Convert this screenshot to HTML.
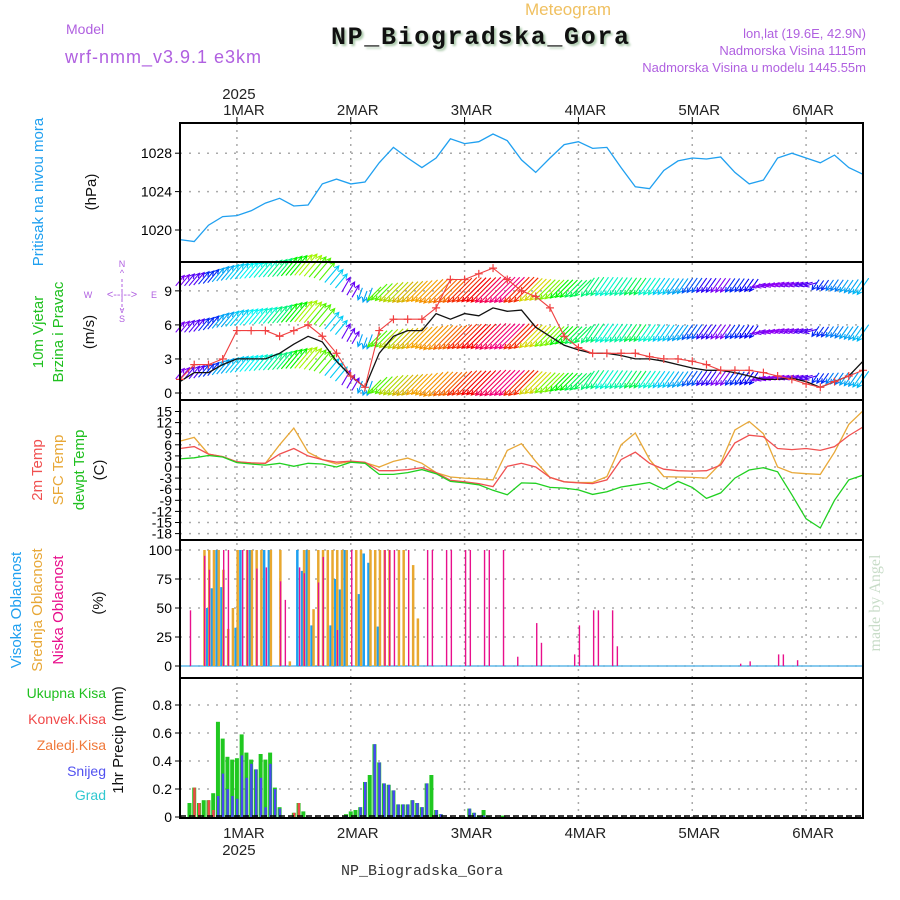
<!DOCTYPE html>
<html><head><meta charset="utf-8"><style>
html,body{margin:0;padding:0;background:#fff;}
svg{display:block;}
text{font-family:"Liberation Sans",sans-serif;}
</style></head><body>
<svg id="chart" width="900" height="900" viewBox="0 0 900 900" xmlns="http://www.w3.org/2000/svg">
<text x="568" y="15" text-anchor="middle" font-size="17" fill="#f0c060">Meteogram</text>
<text x="66" y="34" font-size="14" fill="#b060e0">Model</text>
<text x="65" y="63" font-size="18" fill="#b060e0" letter-spacing="1">wrf-nmm_v3.9.1 e3km</text>
<text x="480" y="44" text-anchor="middle" font-family="Liberation Mono" font-weight="bold" font-size="25" fill="#111" textLength="298" style="font-family:'Liberation Mono',monospace;filter:drop-shadow(2px 2px 1px #a8c8a8)">NP_Biogradska_Gora</text>
<text x="866" y="38" text-anchor="end" font-size="13" fill="#b060e0">lon,lat (19.6E, 42.9N)</text>
<text x="866" y="55" text-anchor="end" font-size="13" fill="#b060e0">Nadmorska Visina 1115m</text>
<text x="866" y="72" text-anchor="end" font-size="13" fill="#b060e0">Nadmorska Visina u modelu 1445.55m</text>
<text x="880" y="603" font-family="Liberation Serif" font-size="16" fill="#c8dcc8" text-anchor="middle" transform="rotate(-90 880 603)" style="font-family:'Liberation Serif',serif">made by Angel</text>

<text x="422" y="875" text-anchor="middle" font-size="15" fill="#333" style="font-family:'Liberation Mono',monospace">NP_Biogradska_Gora</text>

<g font-size="15">
<text transform="translate(43 192) rotate(-90)" text-anchor="middle" fill="#20a0f0">Pritisak na nivou mora</text>
<text transform="translate(96 192) rotate(-90)" text-anchor="middle" fill="#111">(hPa)</text>
<text transform="translate(43 332) rotate(-90)" text-anchor="middle" fill="#20c020">10m Vjetar</text>
<text transform="translate(63 332) rotate(-90)" text-anchor="middle" fill="#20c020">Brzina i Pravac</text>
<text transform="translate(94 332) rotate(-90)" text-anchor="middle" fill="#111">(m/s)</text>
<text transform="translate(42 470) rotate(-90)" text-anchor="middle" fill="#f05050">2m Temp</text>
<text transform="translate(63 470) rotate(-90)" text-anchor="middle" fill="#e8a838">SFC Temp</text>
<text transform="translate(84 470) rotate(-90)" text-anchor="middle" fill="#20c020">dewpt Temp</text>
<text transform="translate(104 470) rotate(-90)" text-anchor="middle" fill="#111">(C)</text>
<text transform="translate(21 610) rotate(-90)" text-anchor="middle" fill="#20a0f0">Visoka Oblacnost</text>
<text transform="translate(42 610) rotate(-90)" text-anchor="middle" fill="#e8a838">Srednja Oblacnost</text>
<text transform="translate(63 610) rotate(-90)" text-anchor="middle" fill="#e8108c">Niska Oblacnost</text>
<text transform="translate(103 603) rotate(-90)" text-anchor="middle" fill="#111">(%)</text>
<text transform="translate(123 740) rotate(-90)" text-anchor="middle" fill="#111">1hr Precip (mm)</text>
</g>
<g font-size="14" text-anchor="end">
<text x="106" y="698" fill="#20c020">Ukupna  Kisa</text>
<text x="106" y="724" fill="#f04848">Konvek.Kisa</text>
<text x="106" y="750" fill="#f07838">Zaledj.Kisa</text>
<text x="106" y="776" fill="#5050f0">Snijeg</text>
<text x="106" y="800" fill="#30c8d0">Grad</text>
</g>
<g fill="#b060e0" font-size="9">
<text x="122" y="267" text-anchor="middle">N</text>
<text x="122" y="276" text-anchor="middle">^</text>
<text x="122" y="298" text-anchor="middle" font-size="11">&lt;--|--&gt;</text>
<text x="88" y="298" text-anchor="middle">W</text>
<text x="154" y="298" text-anchor="middle">E</text>
<text x="122" y="313" text-anchor="middle">v</text>
<text x="122" y="322" text-anchor="middle">S</text>
<line x1="122" y1="279" x2="122" y2="310" stroke="#b060e0" stroke-dasharray="3 2"/>
</g>
<g id="layer"></g>
</svg>
<script>
// ---------- data (3-hourly from 28FEB 12UTC) ----------
const dayLabels = ['1MAR','2MAR','3MAR','4MAR','5MAR','6MAR'];
const dayHours = [12,36,60,84,108,132];
const pressure = [1019.0,1018.8,1020.5,1021.4,1021.5,1022.0,1022.8,1023.3,1022.5,1022.6,1024.8,1025.3,1024.8,1025.0,1027.0,1028.6,1027.5,1026.5,1027.5,1029.5,1029.0,1029.2,1030.0,1029.3,1027.3,1026.0,1027.5,1028.9,1029.2,1028.5,1028.6,1026.5,1024.5,1024.3,1026.2,1027.2,1027.5,1027.4,1027.6,1026.0,1024.8,1025.2,1027.5,1028.0,1027.5,1027.0,1027.8,1026.5,1025.8];
const pressureTicks = [1020,1024,1028];
const windSpeed = [1,1.8,1.8,2.5,3,3,3,3.5,4.3,5,4.5,2.8,1.5,0.5,3.5,5,5.5,5.5,7,6.5,7,6.8,7.5,7.2,7.3,5.8,5,4.2,3.8,3.5,3.5,3.3,3,3,2.8,2.5,2.2,2,2,1.8,1.5,1.2,1.2,1.3,1,0.5,1,1.5,2.8];
const windGust = [1.2,2.5,2.5,3,5.5,5.5,5.5,5,5.5,6,5,3.5,1.5,0.5,5.5,6.5,6.5,6.5,7.5,10,10,10.5,11,10,9,8.5,7.5,5,4,3.5,3.5,3.5,3.5,3.2,3,3,2.8,2.5,2,2,2,1.8,1.5,1.2,0.8,0.5,1,1.5,2];
const arrowBase = [1.7,1.8,2,2.3,2.5,2.6,2.7,2.8,3,3.1,2.8,2,1,0.3,0.7,0.7,0.7,0.8,0.8,0.8,0.9,0.9,0.9,0.9,0.9,0.9,0.9,1,1,1.2,1.2,1.2,1.2,1.2,1.2,1.2,1.3,1.3,1.3,1.3,1.3,1.3,1.4,1.4,1.4,1.3,1.3,1.2,1.2];
const windDir = [50,50,50,50,50,50,50,50,50,50,50,50,60,250,225,225,225,225,225,225,225,225,225,225,225,225,225,225,225,235,235,235,235,235,235,235,235,235,235,235,235,195,195,195,195,235,235,235,235];
const windHue = [270,260,230,200,190,180,170,150,120,80,100,190,265,200,100,70,50,40,35,25,10,0,340,330,10,60,90,120,140,150,170,160,140,170,190,200,220,250,270,230,240,270,275,270,260,230,210,200,195];
const windTicks = [0,3,6,9];
const temp2m = [5,5.5,3.5,2.8,1.4,1.1,1,3.5,5,3,2,1.3,1.6,1.3,-1,-1,-0.7,-0.2,-1.5,-3.6,-4,-4.5,-5.3,0.2,1,0,-2.8,-4,-4.3,-4.5,-3.5,2,4,1,-0.6,-1,-1.1,-1,0.5,6.5,8.6,8.2,5,4.7,5,4.5,5.5,8.5,10.8];
const tempSfc = [7,8,3.5,2.8,1.4,1.1,1,6,10.5,4,2,0.8,1.5,1.2,0,1.5,2.4,1,-1.5,-2.7,-3,-3.2,-3.5,4.5,6.3,1.5,-2.8,-4,-4.2,-4.2,-2.6,6,9.2,2,-2.6,-2.7,-2.8,-3,1,10,12.3,9,0,-1.5,-1.8,-2,4,11.5,15.2];
const tempDew = [2.2,2.5,3.1,2.7,1.2,0.8,0.5,1,0.2,1,0.8,0,1.3,1,-2,-2,-1.5,-0.7,-1.8,-3.9,-4.3,-4.8,-6.3,-7.5,-4.3,-4.4,-5.5,-5.7,-6.2,-7.4,-6.7,-5.4,-4.8,-4.2,-6,-3.9,-5.5,-8.5,-7,-3,-0.8,-0.2,-1.3,-7.5,-14,-16.5,-9,-3.5,-2.2];
const tempTicks = [15,12,9,6,3,0,-3,-6,-9,-12,-15,-18];
const cloudHours = [2,5,6,7,8,9,10,11,12,13,14,15,16,17,18,19,21,22,23,25,26,27,28,29,30,31,32,33,34,35,36,37,38,39,40,41,42,43,44,45,46,47,48,49,50,52,53,56,57,60,61,64,65,68,71,75,76,83,84,87,88,91,92,118,120,126,127,130];
const cloudLow = [48,95,83,0,0,100,100,0,0,100,100,0,84,0,85,0,73,57,0,85,80,0,0,72,94,0,0,31,0,0,100,0,0,0,0,0,0,100,100,100,0,0,100,0,0,100,100,100,100,100,100,100,100,100,8,37,20,10,35,48,48,48,17,2,4,10,10,5];
const cloudMid = [0,100,100,100,100,83,32,50,100,0,100,100,100,100,0,100,100,0,4,0,100,100,49,100,100,100,100,100,100,100,0,100,100,0,100,100,100,100,100,0,100,100,0,87,41,0,0,0,0,0,0,0,0,0,0,0,0,0,0,0,0,0,0,0,0,0,0,0];
const cloudHigh = [0,0,50,67,100,68,0,0,33,100,0,100,0,0,100,100,0,0,0,100,82,100,35,0,0,0,35,75,66,100,0,0,62,97,89,0,34,0,0,0,0,0,0,0,0,0,0,0,0,0,0,0,0,0,0,0,0,0,0,0,0,0,0,0,0,0,0,0];
const cloudTicks = [0,25,50,75,100];
const precipHours = [2,3,4,5,6,7,8,9,10,11,12,13,14,15,16,17,18,19,20,21,24,25,26,35,36,37,38,39,40,41,42,43,44,45,46,47,48,49,50,51,52,53,54,55,61,62,63,64,65,68];
const precipTotal = [0.1,0.21,0.1,0.12,0.12,0.17,0.68,0.56,0.43,0.41,0.42,0.59,0.46,0.41,0.34,0.45,0.41,0.46,0.21,0.07,0.03,0.1,0.04,0.02,0.04,0.05,0.07,0.25,0.3,0.52,0.39,0.24,0.23,0.19,0.09,0.09,0.09,0.12,0.1,0.07,0.24,0.3,0.05,0.02,0.06,0.03,0.01,0.05,0.01,0.01];
const precipConv = [0,0.21,0.1,0,0.12,0.05,0,0,0,0,0,0,0,0,0,0,0,0,0,0,0.03,0.1,0,0,0,0,0,0,0,0,0,0,0,0,0,0,0,0,0,0,0,0,0,0,0,0,0,0,0,0];
const precipSnow = [0,0,0,0,0,0.04,0.15,0.31,0.2,0.15,0.13,0.44,0.28,0.38,0.34,0.28,0.07,0.38,0.2,0.06,0,0,0,0.01,0,0,0.07,0.25,0,0.52,0.39,0.24,0.23,0.19,0.09,0.09,0.09,0.12,0.1,0.07,0.24,0,0.05,0.02,0.06,0.03,0,0.01,0,0];
const precipTicks = [0,0.2,0.4,0.6,0.8];

// ---------- scales ----------
const X0=180, X1=863, NH=144, STEP=3;
const xh = h => X0 + h*(X1-X0)/NH;
const yP = v => 230 - (v-1020)*9.6;
const yW = v => 393 - v*11.35;
const yT = v => 467 - v*3.7;
const yC = v => 666 - v*1.16;
const yR = v => 817 - v*140;
const panels = [[123,262],[262,400],[400,540],[540,678],[678,818]];
const NS='http://www.w3.org/2000/svg';
const layer=document.getElementById('layer');
function mk(tag,attrs,parent){const e=document.createElementNS(NS,tag);for(const k in attrs)e.setAttribute(k,attrs[k]);(parent||layer).appendChild(e);return e;}

// gridlines
const grid=mk('g',{});


dayHours.forEach(h=>{mk('line',{x1:xh(h),x2:xh(h),y1:123,y2:818,stroke:'#aaa','stroke-width':1.5,'stroke-dasharray':'2 5'},grid);});
function hgrid(vals,fn){vals.forEach(v=>{mk('line',{x1:X0,x2:X1,y1:fn(v),y2:fn(v),stroke:'#aaa','stroke-width':1.5,'stroke-dasharray':'2 7'},grid);mk('line',{x1:X0-5,x2:X0,y1:fn(v),y2:fn(v),stroke:'#000'},grid);});}
hgrid(pressureTicks,yP);hgrid(windTicks,yW);hgrid(tempTicks,yT);hgrid(cloudTicks,yC);hgrid(precipTicks,yR);

// tick labels
function ylabels(vals,fn,name,fs,fmt){const g=mk('g',{'font-size':fs,'text-anchor':'end'});


vals.forEach(v=>{const t=mk('text',{x:X0-8,y:fn(v)+fs*0.36},g);t.textContent=fmt?fmt(v):v;});}
ylabels(pressureTicks,yP,'pressure-y-ticks',14);
ylabels(windTicks,yW,'wind-y-ticks',14);
ylabels(tempTicks,yT,'temp-y-ticks',14);
ylabels(cloudTicks,yC,'cloud-y-ticks',14);
ylabels(precipTicks,yR,'precip-y-ticks',14,v=>v===0?'0':v.toFixed(1));

// day labels top & bottom
const dl=mk('g',{'font-size':15,'text-anchor':'middle',fill:'#222'});


dayHours.forEach((h,i)=>{const t=mk('text',{x:xh(h)+7,y:115},dl);t.textContent=dayLabels[i];
const b=mk('text',{x:xh(h)+7,y:838},dl);b.textContent=dayLabels[i];
mk('line',{x1:xh(h),x2:xh(h),y1:117,y2:123,stroke:'#000'},dl);});
const yr1=mk('text',{x:xh(12)+2,y:99},dl);yr1.textContent='2025';
const yr2=mk('text',{x:xh(12)+2,y:855},dl);yr2.textContent='2025';

function line(arr,fn,color,name,w){const d=arr.map((v,i)=>(i?'L':'M')+xh(i*STEP).toFixed(1)+' '+fn(v).toFixed(1)).join(' ');
const p=mk('path',{d:d,fill:'none',stroke:color,'stroke-width':w||1.3});


return p;}

// pressure
line(pressure,yP,'#20a0f0','pressure-line');

// wind arrows (hourly interpolation)
const wg=mk('g',{'stroke-width':1.1,fill:'none'});


function interp(arr,h){const i=Math.min(Math.floor(h/STEP),arr.length-2);const f=h/STEP-i;return arr[i]+(arr[i+1]-arr[i])*f;}
for(let h=0;h<=NH;h++){const i=Math.min(Math.round(h/STEP),windDir.length-1);
 const base=interp(arrowBase,h),sp=interp(windSpeed,h);const ang=windDir[i]*Math.PI/180;const hue=windHue[i];
 const L=10+sp*3.5;const col='hsl('+hue+',100%,'+(hue>40&&hue<80?42:48)+'%)';
 for(let r=0;r<3;r++){const cx=xh(h),cy=yW(base+r*4.1);
  const dx=Math.cos(ang)*L/2,dy=-Math.sin(ang)*L/2;
  const tx=cx+dx,ty=cy+dy,sx=cx-dx,sy=cy-dy;
  const a1=ang+Math.PI*0.85,a2=ang-Math.PI*0.85;
  mk('path',{d:`M${sx.toFixed(1)} ${sy.toFixed(1)}L${tx.toFixed(1)} ${ty.toFixed(1)}M${(tx+Math.cos(a1)*5).toFixed(1)} ${(ty-Math.sin(a1)*5).toFixed(1)}L${tx.toFixed(1)} ${ty.toFixed(1)}L${(tx+Math.cos(a2)*5).toFixed(1)} ${(ty-Math.sin(a2)*5).toFixed(1)}`,stroke:col},wg);}
}
line(windSpeed,yW,'#111','wind-speed-line',1.3);
line(windGust,yW,'#f04040','wind-gust-line',1.1);
const gm=mk('g',{stroke:'#f04040','stroke-width':1.2});


windGust.forEach((v,i)=>{const x=xh(i*STEP),y=yW(v);mk('path',{d:`M${x-4} ${y}H${x+4}M${x} ${y-4}V${y+4}`},gm);});

// temps
line(tempSfc,yT,'#e8a838','sfc-temp-line');
line(temp2m,yT,'#f05050','temp-2m-line');
line(tempDew,yT,'#20d020','dewpoint-line');

// clouds
mk('line',{x1:X0,x2:X1,y1:yC(0),y2:yC(0),stroke:'#60b8e8','stroke-width':1.5});
const cg=mk('g',{});


cloudHours.forEach((h,i)=>{const x=xh(h);
 if(cloudHigh[i]>0)mk('rect',{x:x-2.5,y:yC(cloudHigh[i]),width:2.5,height:yC(0)-yC(cloudHigh[i]),fill:'#1ea0f0'},cg);
 if(cloudMid[i]>0)mk('rect',{x:x-0.5,y:yC(cloudMid[i]),width:2.5,height:yC(0)-yC(cloudMid[i]),fill:'#e8a830'},cg);
 if(cloudLow[i]>0)mk('rect',{x:x+0.3,y:yC(cloudLow[i]),width:1.4,height:yC(0)-yC(cloudLow[i]),fill:'#e8108c'},cg);});

// precip
const pg=mk('g',{});


precipHours.forEach((h,i)=>{const x=xh(h);
 if(precipTotal[i]>0)mk('rect',{x:x-2,y:yR(precipTotal[i]),width:4,height:yR(0)-yR(precipTotal[i]),fill:'#20c820'},pg);
 if(precipSnow[i]>0)mk('rect',{x:x-1,y:yR(precipSnow[i]),width:2.5,height:yR(0)-yR(precipSnow[i]),fill:'#4848f0'},pg);
 if(precipConv[i]>0)mk('rect',{x:x-1,y:yR(precipConv[i]),width:2.5,height:yR(0)-yR(precipConv[i]),fill:'#f04848'},pg);});
mk('line',{x1:X0,x2:X1,y1:816,y2:816,stroke:'#000','stroke-width':1.5,'stroke-dasharray':'6 3'});

// frames
const fr=mk('g',{fill:'none',stroke:'#000','stroke-width':2});


panels.forEach(p=>mk('rect',{x:X0,y:p[0],width:X1-X0,height:p[1]-p[0]},fr));
</script>
</body></html>
